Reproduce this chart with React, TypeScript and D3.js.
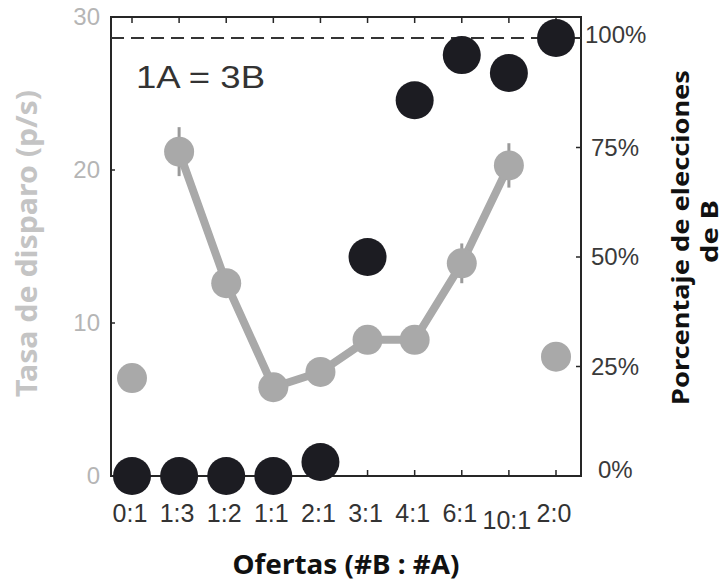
import React from 'react';
import * as d3 from 'd3';

const categories = ['0:1', '1:3', '1:2', '1:1', '2:1', '3:1', '4:1', '6:1', '10:1', '2:0'];
const firingRate = [6.4, 21.2, 12.6, 5.8, 6.8, 8.9, 8.9, 13.9, 20.3, 7.8];
const firingErr = [0.4, 1.6, 0.8, 0.5, 0.5, 0.6, 0.6, 1.3, 1.45, 0.4];
const choiceB = [0, 0, 0, 0, 3.2, 50, 85.8, 96.1, 92, 100];
const lineCategories = ['1:3', '1:2', '1:1', '2:1', '3:1', '4:1', '6:1', '10:1'];
const leftTicks = [0, 10, 20, 30];
const rightTicks = [0, 25, 50, 75, 100];
const rightTickLabels = ['0%', '25%', '50%', '75%', '100%'];

const W = 725;
const H = 583;
const frame = { left: 111, right: 581, top: 17, bottom: 476 };

export default function App() {
  const x = d3.scalePoint<string>().domain(categories).range([132, 556]);
  const yL = d3.scaleLinear().domain([0, 30]).range([frame.bottom, frame.top]);
  const yR = d3.scaleLinear().domain([0, 100]).range([frame.bottom, 38]);

  const lineData = lineCategories.map((c) => ({ c, v: firingRate[categories.indexOf(c)] }));
  const line = d3
    .line<{ c: string; v: number }>()
    .x((d) => x(d.c) as number)
    .y((d) => yL(d.v));

  const axisColor = '#262626';
  const gray = '#a9a9a9';
  const dark = '#1c1c22';

  return (
    <svg width={W} height={H} style={{ position: 'absolute', left: 0, top: 0, background: '#fff' }}>
      <rect
        x={frame.left}
        y={frame.top}
        width={frame.right - frame.left}
        height={frame.bottom - frame.top}
        fill="none"
        stroke={axisColor}
        strokeWidth={2}
      />
      {categories.map((c) => (
        <g key={'xt' + c}>
          <line x1={x(c)} x2={x(c)} y1={frame.bottom} y2={frame.bottom - 6} stroke={axisColor} strokeWidth={1.5} />
          <line x1={x(c)} x2={x(c)} y1={frame.top} y2={frame.top + 6} stroke={axisColor} strokeWidth={1.5} />
        </g>
      ))}
      {leftTicks.map((t) => (
        <g key={'lt' + t}>
          <line x1={frame.left} x2={frame.left + 4} y1={yL(t)} y2={yL(t)} stroke={axisColor} strokeWidth={1.5} />
          <text
            x={100}
            y={yL(t) + 8}
            textAnchor="end"
            fontFamily="Liberation Sans, Arial, sans-serif"
            fontSize={24}
            fill="#b5b5b5"
          >
            {t}
          </text>
        </g>
      ))}
      {rightTicks.map((t, i) => (
        <g key={'rt' + t}>
          <line x1={frame.right - 5} x2={frame.right} y1={yR(t)} y2={yR(t)} stroke={axisColor} strokeWidth={1.5} />
          <text
            x={t === 100 ? 585 : t === 0 ? 598 : 591}
            y={yR(t) + (t === 100 ? 5 : t === 0 ? 2 : 8)}
            fontFamily="Liberation Sans, Arial, sans-serif"
            fontSize={24}
            fill="#3a3a3a"
          >
            {rightTickLabels[i]}
          </text>
        </g>
      ))}
      <line
        x1={frame.left}
        x2={frame.right}
        y1={yR(100)}
        y2={yR(100)}
        stroke="#333"
        strokeWidth={2}
        strokeDasharray="13 7"
      />
      {categories.map((c) => (
        <text
          key={'xl' + c}
          x={(x(c) as number) - 2}
          y={c === '10:1' ? 529 : 522}
          textAnchor="middle"
          fontFamily="Liberation Sans, Arial, sans-serif"
          fontSize={25}
          fill="#333"
        >
          {c}
        </text>
      ))}
      <path d={line(lineData) || ''} fill="none" stroke={gray} strokeWidth={8} strokeLinejoin="round" />
      {categories.map((c, i) => (
        <line
          key={'eb' + c}
          x1={x(c)}
          x2={x(c)}
          y1={yL(firingRate[i] - firingErr[i])}
          y2={yL(firingRate[i] + firingErr[i])}
          stroke="#9a9a9a"
          strokeWidth={3}
        />
      ))}
      {categories.map((c, i) => (
        <circle key={'g' + c} cx={x(c)} cy={yL(firingRate[i])} r={15} fill={gray} />
      ))}
      {categories.map((c, i) => (
        <circle key={'b' + c} cx={x(c)} cy={yR(choiceB[i])} r={19} fill={dark} />
      ))}
      <text
        x={136}
        y={88}
        fontFamily="Liberation Sans, Arial, sans-serif"
        fontSize={32}
        fill="#333"
        textLength={129}
        lengthAdjust="spacingAndGlyphs"
      >
        1A = 3B
      </text>
      <text
        x={346}
        y={574}
        textAnchor="middle"
        fontFamily="Noto Sans, sans-serif"
        fontWeight="bold"
        fontSize={26}
        fill="#111"
        textLength={227}
        lengthAdjust="spacingAndGlyphs"
      >
        Ofertas (#B : #A)
      </text>
      <text
        transform={`translate(37, 243.5) rotate(-90)`}
        textAnchor="middle"
        fontFamily="Noto Sans, sans-serif"
        fontWeight="bold"
        fontSize={29}
        fill="#c4c4c4"
        textLength={307}
        lengthAdjust="spacingAndGlyphs"
      >
        Tasa de disparo (p/s)
      </text>
      <text
        transform={`translate(689, 237.5) rotate(-90)`}
        textAnchor="middle"
        fontFamily="Noto Sans, sans-serif"
        fontWeight="bold"
        fontSize={24}
        fill="#111"
        textLength={335}
        lengthAdjust="spacingAndGlyphs"
      >
        Porcentaje de elecciones
      </text>
      <text
        transform={`translate(718, 231.5) rotate(-90)`}
        textAnchor="middle"
        fontFamily="Noto Sans, sans-serif"
        fontWeight="bold"
        fontSize={24}
        fill="#111"
        textLength={63}
        lengthAdjust="spacingAndGlyphs"
      >
        de B
      </text>
    </svg>
  );
}
